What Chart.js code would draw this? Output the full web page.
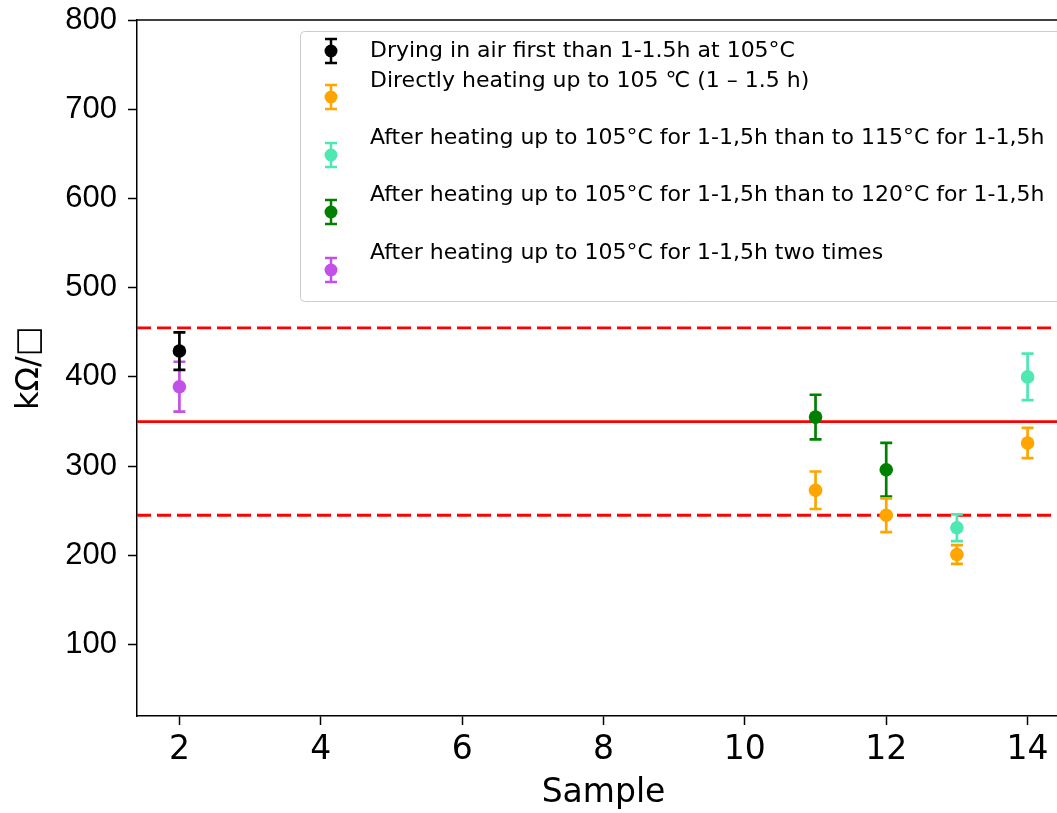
<!DOCTYPE html>
<html>
<head>
<meta charset="utf-8">
<title>Sheet resistance per sample</title>
<script src="https://cdn.jsdelivr.net/npm/chart.js@4.4.1/dist/chart.umd.min.js"></script>
<style>
  html, body { margin: 0; padding: 0; background: #fff; overflow: hidden; }
  #wrap { width: 1080px; height: 813px; }
</style>
</head>
<body>
<div id="wrap"><canvas id="grafica" width="1080" height="813"></canvas></div>
<script>
// sample numbers, sheet resistance (kOhm/sq) and error for each treatment
const dryX = [2];
const dryY = [429];
const dryErr = [21];

const directX = [11, 12, 13, 14];
const directY = [273, 245, 201, 326];
const directErr = [21, 19, 10.5, 17];

const h115X = [13, 14];
const h115Y = [231, 400];
const h115Err = [15, 26];

const h120X = [11, 12];
const h120Y = [355, 296];
const h120Err = [25, 30];

const twiceX = [2];
const twiceY = [389];
const twiceErr = [28];

const seriesLabels = [
    "Drying in air first than 1-1.5h at 105°C",
    "Directly heating up to 105 \u2103 (1 \u2013 1.5 h)",
    "After heating up to 105°C for 1-1,5h than to 115°C for 1-1,5h",
    "After heating up to 105°C for 1-1,5h than to 120°C for 1-1,5h",
    "After heating up to 105°C for 1-1,5h two times"
];
const seriesColors = ['#000000', '#ffa500', '#4ee8b2', '#008000', '#c251e8'];

// target value and +-30% limits
const targetLine = [350];
const limitLines = [245, 455];

const xTicks = [2, 4, 6, 8, 10, 12, 14];
const yTicks = [100, 200, 300, 400, 500, 600, 700, 800];

function puntos(xs, ys) {
    return xs.map((x, i) => ({ x: x, y: ys[i] }));
}

function serie(idx, xs, ys, errs) {
    return {
        label: seriesLabels[idx],
        data: puntos(xs, ys),
        errors: errs,
        backgroundColor: seriesColors[idx],
        borderColor: seriesColors[idx],
        pointRadius: 6.8,
        pointBorderWidth: 0,
        pointHoverRadius: 6.8
    };
}

// vertical error bars with caps, drawn just before each dataset's markers
function barraError(ctx, px, yTop, yBot, cap) {
    ctx.beginPath();
    ctx.moveTo(px, yTop); ctx.lineTo(px, yBot);
    ctx.moveTo(px - cap, yTop); ctx.lineTo(px + cap, yTop);
    ctx.moveTo(px - cap, yBot); ctx.lineTo(px + cap, yBot);
    ctx.stroke();
}

const errorBars = {
    id: 'errorBars',
    beforeDatasetDraw(chart, args) {
        const ds = chart.data.datasets[args.index];
        const { x, y } = chart.scales;
        const ctx = chart.ctx;
        ctx.save();
        ctx.strokeStyle = ds.borderColor;
        ctx.lineWidth = 2.7;
        ds.data.forEach((p, i) => {
            const e = ds.errors[i];
            barraError(ctx, x.getPixelForValue(p.x), y.getPixelForValue(p.y + e), y.getPixelForValue(p.y - e), 6);
        });
        ctx.restore();
    }
};

// horizontal reference lines across the whole plot
const refLines = {
    id: 'refLines',
    beforeDatasetsDraw(chart) {
        const { ctx, chartArea: a, scales: { y } } = chart;
        ctx.save();
        ctx.strokeStyle = '#ff0000';
        ctx.lineWidth = 2.8;
        const dibujar = (v, dash) => {
            const py = y.getPixelForValue(v);
            ctx.setLineDash(dash);
            ctx.beginPath();
            ctx.moveTo(a.left, py);
            ctx.lineTo(a.right, py);
            ctx.stroke();
        };
        targetLine.forEach(v => dibujar(v, []));
        limitLines.forEach(v => dibujar(v, [14, 6]));
        ctx.restore();
    }
};

// top frame line plus the legend box inside the axes
const marcoLeyenda = {
    id: 'marcoLeyenda',
    afterDraw(chart) {
        const { ctx, chartArea: a } = chart;
        ctx.save();
        ctx.strokeStyle = '#000';
        ctx.lineWidth = 1.5;
        ctx.beginPath();
        ctx.moveTo(a.left, a.top);
        ctx.lineTo(a.right, a.top);
        ctx.stroke();

        const bx = a.left + 163.5, by = a.top + 11.5;
        const bw = a.right - bx - 8, bh = 270;
        ctx.fillStyle = 'rgba(255,255,255,0.8)';
        ctx.strokeStyle = '#cccccc';
        ctx.lineWidth = 1;
        ctx.beginPath();
        ctx.roundRect(bx, by, bw, bh, 4);
        ctx.fill();
        ctx.stroke();

        const markerY = [51, 97, 155, 212, 270];
        const textY = [57, 87, 144, 201, 259];
        ctx.font = '22px "DejaVu Sans"';
        ctx.textBaseline = 'alphabetic';
        ctx.textAlign = 'left';
        seriesLabels.forEach((lbl, i) => {
            const mx = a.left + 194;
            const my = a.top + markerY[i] - 20;
            ctx.strokeStyle = seriesColors[i];
            ctx.fillStyle = seriesColors[i];
            ctx.lineWidth = 2.5;
            barraError(ctx, mx, my - 12, my + 12, 6);
            ctx.beginPath();
            ctx.arc(mx, my, 6.5, 0, Math.PI * 2);
            ctx.fill();
            ctx.fillStyle = '#000';
            ctx.fillText(lbl, a.left + 233, a.top + textY[i] - 20);
        });
        ctx.restore();
    }
};

const ctxGrafica = document.getElementById('grafica').getContext('2d');
const chart = new Chart(ctxGrafica, {
    type: 'scatter',
    data: {
        datasets: [
            serie(0, dryX, dryY, dryErr),
            serie(1, directX, directY, directErr),
            serie(2, h115X, h115Y, h115Err),
            serie(3, h120X, h120Y, h120Err),
            serie(4, twiceX, twiceY, twiceErr)
        ]
    },
    options: {
        responsive: false,
        animation: false,
        devicePixelRatio: 1,
        layout: { padding: { top: 20, right: 10, left: 0, bottom: 0 } },
        plugins: { legend: { display: false }, tooltip: { enabled: false } },
        scales: {
            x: {
                type: 'linear',
                min: 1.4,
                max: 14.6,
                afterBuildTicks: s => { s.ticks = xTicks.map(v => ({ value: v })); },
                afterFit: s => { s.height = 97; s.paddingLeft = 0; s.paddingRight = 0; },
                border: { display: true, color: '#000', width: 1.5 },
                grid: { display: true, drawOnChartArea: false, drawTicks: true, tickLength: 9, tickWidth: 1.5, tickColor: '#000' },
                ticks: { color: '#000', padding: 6, maxRotation: 0, font: { family: 'DejaVu Sans', size: 33 } },
                title: { display: true, text: 'Sample', color: '#000', padding: { top: 0, bottom: 0 }, font: { family: 'DejaVu Sans', size: 33 } }
            },
            y: {
                type: 'linear',
                min: 20,
                max: 800,
                afterBuildTicks: s => { s.ticks = yTicks.map(v => ({ value: v })); },
                afterFit: s => { s.width = 137; s.paddingTop = 0; s.paddingBottom = 0; },
                border: { display: true, color: '#000', width: 1.5 },
                grid: { display: true, drawOnChartArea: false, drawTicks: true, tickLength: 9, tickWidth: 1.5, tickColor: '#000' },
                ticks: { color: '#000', padding: 11, font: { family: 'Liberation Sans', size: 31 } },
                title: { display: true, text: 'k\u03a9/\u25a1', color: '#000', padding: { top: 10, bottom: 0 }, font: { family: 'DejaVu Sans', size: 32 } }
            }
        }
    },
    plugins: [refLines, errorBars, marcoLeyenda]
});
</script>
</body>
</html>
